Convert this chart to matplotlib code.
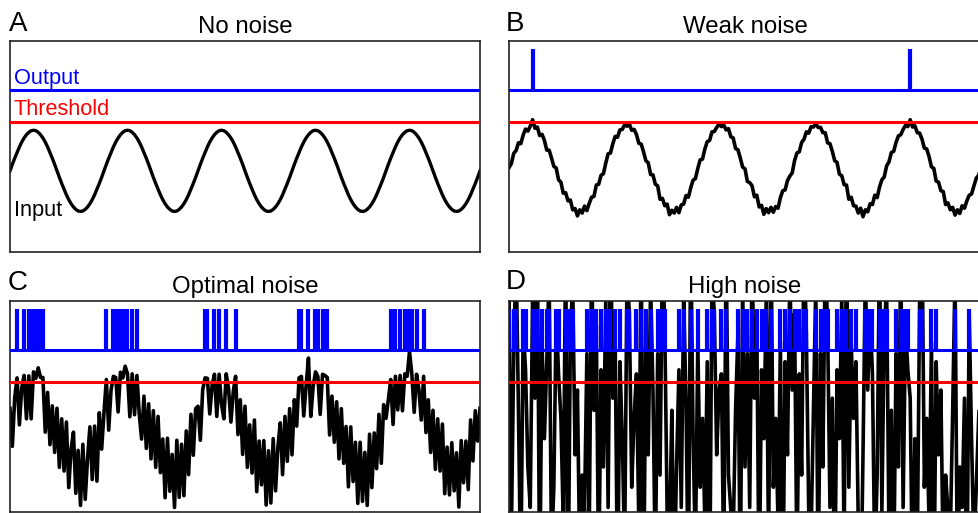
import numpy as np
import matplotlib
matplotlib.use("Agg")
import matplotlib.pyplot as plt

plt.rcParams['font.family'] = ['Liberation Sans', 'DejaVu Sans']

# ---------------- data ----------------
panel_letters = ["A", "B", "C", "D"]
panel_titles = ["No noise", "Weak noise", "Optimal noise", "High noise"]

threshold = 1.2       # threshold level
output_base = 2.0     # output baseline level
spike_height = 1.0    # output spike height

# clean periodic input (panel A), 5 periods across the panel
carrier = [
    0, .16, .31, .45, .59, .71, .81, .89, .95, .99, 1, .99, .95, .89, .81, .71, .59, .45, .31, .16,
    0, -.16, -.31, -.45, -.59, -.71, -.81, -.89, -.95, -.99, -1, -.99, -.95, -.89, -.81, -.71, -.59, -.45, -.31, -.16,
    0, .16, .31, .45, .59, .71, .81, .89, .95, .99, 1, .99, .95, .89, .81, .71, .59, .45, .31, .16,
    0, -.16, -.31, -.45, -.59, -.71, -.81, -.89, -.95, -.99, -1, -.99, -.95, -.89, -.81, -.71, -.59, -.45, -.31, -.16,
    0, .16, .31, .45, .59, .71, .81, .89, .95, .99, 1, .99, .95, .89, .81, .71, .59, .45, .31, .16,
    0, -.16, -.31, -.45, -.59, -.71, -.81, -.89, -.95, -.99, -1, -.99, -.95, -.89, -.81, -.71, -.59, -.45, -.31, -.16,
    0, .16, .31, .45, .59, .71, .81, .89, .95, .99, 1, .99, .95, .89, .81, .71, .59, .45, .31, .16,
    0, -.16, -.31, -.45, -.59, -.71, -.81, -.89, -.95, -.99, -1, -.99, -.95, -.89, -.81, -.71, -.59, -.45, -.31, -.16,
    0, .16, .31, .45, .59, .71, .81, .89, .95, .99, 1, .99, .95, .89, .81, .71, .59, .45, .31, .16,
    0, -.16, -.31, -.45, -.59, -.71, -.81, -.89, -.95, -.99, -1, -.99, -.95, -.89, -.81, -.71, -.59, -.45, -.31, -.16,
    0,
]

noise_weak = [
    0.08, 0.02, 0.12, 0.05, 0.10, -0.04, 0.07, 0.14, 0.03, 0.11, 0.26, 0.06, 0.13, -0.02, 0.09, 0.04, -0.08, 0.06, 0.01, -0.05,
    0.07, -0.06, 0.03, -0.10, 0.05, -0.03, 0.09, -0.07, 0.02, -0.12, 0.04, -0.05, 0.08, -0.09, 0.01, 0.06, -0.04, 0.10, -0.02, 0.05,
    -0.07, 0.03, 0.11, -0.01, 0.08, 0.14, 0.02, 0.12, 0.07, 0.15, 0.10, 0.16, 0.05, 0.13, 0.09, -0.03, 0.07, 0.02, -0.06, 0.04,
    -0.09, 0.06, -0.02, 0.08, -0.11, 0.03, -0.05, 0.07, -0.13, 0.02, -0.04, 0.09, -0.08, 0.05, -0.01, 0.10, -0.06, 0.03, 0.08, -0.03,
    0.06, 0.11, -0.02, 0.09, 0.13, 0.04, 0.15, 0.08, 0.12, 0.16, 0.09, 0.14, 0.06, 0.15, 0.03, 0.10, -0.04, 0.07, 0.01, -0.07,
    0.05, -0.10, 0.02, 0.08, -0.05, 0.11, -0.08, 0.04, -0.12, 0.06, -0.03, 0.09, -0.07, 0.01, -0.11, 0.05, 0.10, -0.02, 0.07, 0.03,
    -0.05, 0.09, 0.13, 0.02, 0.11, 0.07, 0.15, 0.04, 0.14, 0.09, 0.16, 0.08, 0.12, 0.05, 0.13, -0.02, 0.08, 0.03, -0.06, 0.05,
    -0.08, 0.04, -0.03, 0.10, -0.11, 0.06, -0.05, 0.02, -0.09, 0.07, -0.13, 0.03, -0.06, 0.08, -0.02, 0.11, -0.07, 0.05, 0.09, 0.01,
    0.12, 0.06, 0.14, 0.03, 0.11, 0.15, 0.08, 0.13, 0.17, 0.10, 0.26, 0.09, 0.16, 0.05, 0.12, 0.07, -0.03, 0.09, 0.04, -0.06,
    0.06, -0.09, 0.03, -0.04, 0.08, -0.12, 0.02, -0.07, 0.05, -0.10, 0.04, -0.06, 0.09, -0.03, 0.07, 0.11, 0.02, 0.08, 0.13, 0.05,
    0.10,
]

noise_optimal = [
    0.55, -0.55, 0.5, 0.85, -0.45, 0.35, 0.55, -0.6, 0.4, -0.7, 0.45, 0.3, 0.6, 0.42, 0.5, -0.75, 0.35, -0.8, 0.3, -0.7,
    0.55, -0.75, 0.6, -0.55, 0.8, -0.7, 0.35, 0.85, -0.6, 0.5, -0.85, 0.65, -0.75, 0.2, 0.9, -0.5, 0.7, -0.8, 0.75, -0.3,
    0.45, 1.1, -0.3, 0.55, 0.75, 0.6, -0.35, 0.55, 0.35, 0.6, 0.4, -0.65, 0.45, -0.5, 0.55, -0.3, -0.8, 0.4, -0.75, 0.5,
    -0.7, 0.65, -0.6, 0.8, -0.45, 0.5, -0.85, 0.7, -0.55, 0.4, -0.9, 0.75, -0.7, 0.55, -0.8, 0.7, -0.5, 0.85, -0.3, 0.7,
    0.6, -0.4, 0.7, 0.85, 0.7, -0.3, 0.3, 0.5, -0.6, 0.4, -0.35, -0.7, 0.45, 0.15, -0.6, 0.25, 0.75, -0.55, 0.45, -0.75,
    0.6, -0.75, 0.45, -0.6, 0.85, -0.8, 0.55, -0.45, 0.7, -0.85, 0.5, -0.8, 0.75, -0.6, 0.4, 0.9, -0.5, 0.8, -0.45, 0.7,
    -0.6, 0.6, -0.2, 0.85, 0.75, -0.35, 0.3, 0.9, -0.6, 0.1, 0.45, 0.35, -0.55, 0.5, 0.55, 0.6, -0.7, 0.4, -0.6, 0.55,
    -0.7, 0.7, -0.5, 0.55, -0.8, 0.8, -0.45, 0.6, -0.85, 0.7, -0.75, 0.45, -0.9, 0.8, -0.6, 0.65, -0.35, 0.85, -0.5, 0.8,
    0.3, 0.6, 0.95, -0.3, 0.75, -0.2, 0.55, -0.4, 0.45, 0.35, 0.95, 0.4, -0.5, 0.5, 0.2, -0.45, 0.75, -0.5, 0.45, -0.7,
    0.5, -0.8, 0.6, -0.55, 0.75, -0.85, 0.4, -0.7, 0.65, -0.5, 0.45, -0.9, 0.7, -0.4, 0.55, -0.75, 0.85, -0.3, 0.8, -0.1,
    0.55,
]

# input (noise swamps the periodic signal)
input_high = [
    3.6, -2.6, 1.9, 4.4, 0.5, -3.8, 2.6, 1.5, -0.9, -1.9, 3.3, 0.8, 5.0, -4.2, 2.2, -0.2, 1.7, 3.9, -3.0, -1.4,
    2.9, 1.4, 0.3, -2.3, 4.7, -4.6, 2.4, 3.6, -0.6, 1.0, -3.4, -1.1, -2.0, 1.9, -2.6, 4.4, 0.5, 2.6, -3.8, 1.5,
    -0.9, 3.3, -1.9, 5.0, 0.8, 2.2, -4.2, 1.7, -0.2, -3.0, 3.9, 2.9, -1.4, 0.3, 1.4, -2.3, 4.7, -4.6, 2.4, -0.6,
    3.6, 1.0, -3.4, 1.9, -1.1, 4.4, 2.6, -2.0, -2.6, 0.5, -3.8, -0.9, 1.5, -1.9, 3.3, 0.8, -4.2, 5.0, -0.2, -3.0,
    2.2, -1.4, 0.3, -2.3, 1.7, -4.6, 3.9, 2.9, -0.6, 1.0, 1.4, -3.4, 4.7, -1.1, -2.0, -2.6, 0.5, 2.4, -3.8, 3.6,
    -0.9, 1.9, -1.9, 4.4, 0.8, 2.6, -4.2, 1.5, -0.2, 3.3, -3.0, 5.0, -1.4, 0.3, -2.3, 2.2, -4.6, 1.7, -0.6, 3.9,
    1.0, 2.9, -3.4, 1.4, -1.1, 4.7, 2.4, -2.0, -2.6, 0.5, 3.6, -3.8, 1.9, -0.9, 4.4, 2.6, -1.9, 0.8, -4.2, 1.5,
    -0.2, 3.3, -3.0, 5.0, -1.4, 2.2, 0.3, 1.7, -2.3, -4.6, -0.6, 3.9, 1.0, 2.9, 1.4, -3.4, -1.1, 4.7, -2.0, 2.4,
    3.6, -2.6, 0.5, -3.8, 1.9, -0.9, 4.4, -1.9, 2.6, 1.5, 0.8, -4.2, -0.2, -3.0, 3.3, 5.0, -1.4, 0.3, -2.3, 2.2,
    -4.6, 1.7, -0.6, 1.0, -3.4, -1.1, -2.0, -2.6, 0.5, 3.9, -3.8, -0.9, -1.9, 0.8, -4.2, 2.9, -0.2, -3.0, -1.4, 0.3,
    1.4,
]

carr = np.asarray(carrier, dtype=float)
inputs = [
    carr,
    carr + np.asarray(noise_weak, dtype=float),
    carr + np.asarray(noise_optimal, dtype=float),
    np.asarray(input_high, dtype=float),
]

# ---------------- layout ----------------
W, H = 979, 513
fig = plt.figure(figsize=(W / 100, H / 100), dpi=100)

rects = [
    [10 / W, 261 / H, 470 / W, 211 / H],
    [509 / W, 261 / H, 472 / W, 211 / H],
    [10 / W, 1.5 / H, 470 / W, 210.5 / H],
    [509 / W, 1.5 / H, 472 / W, 210.5 / H],
]
letter_pos = [(9, 30.7), (506, 30.7), (8, 289.5), (506, 289)]

x = np.arange(len(carr))

for i in range(4):
    ax = fig.add_axes(rects[i])
    inp = inputs[i]
    fired = inp > threshold

    ax.plot(x, inp, color='black', lw=2.4 if i == 0 else 2.6, zorder=2)
    ax.axhline(threshold, color='#ff0000', lw=2.2, zorder=3)
    ax.axhline(output_base, color='#0000ff', lw=2.2, zorder=4)
    if fired.any():
        ax.vlines(x[fired], output_base, output_base + spike_height,
                  color='#0000ff', lw=3.0, zorder=4)

    ax.set_xlim(0, len(carr) - 1)
    ax.set_ylim(-2.0, 3.2)
    ax.set_xticks([])
    ax.set_yticks([])
    for s in ax.spines.values():
        s.set_color('#222222')
        s.set_linewidth(1.2)
    ax.set_title(panel_titles[i], fontsize=17.3, pad=5.8)

    lx, ly = letter_pos[i]
    fig.text(lx / W, 1 - ly / H, panel_letters[i], fontsize=20,
             ha='left', va='baseline')

    if i == 0:
        ax.text(0.008, 0.795, "Output", color='#0000ff', fontsize=15.7,
                transform=ax.transAxes, ha='left', va='baseline')
        ax.text(0.008, 0.649, "Threshold", color='#ff0000', fontsize=15.7,
                transform=ax.transAxes, ha='left', va='baseline')
        ax.text(0.008, 0.171, "Input", color='black', fontsize=15.7,
                transform=ax.transAxes, ha='left', va='baseline')

fig.savefig("out.png", dpi=100)
